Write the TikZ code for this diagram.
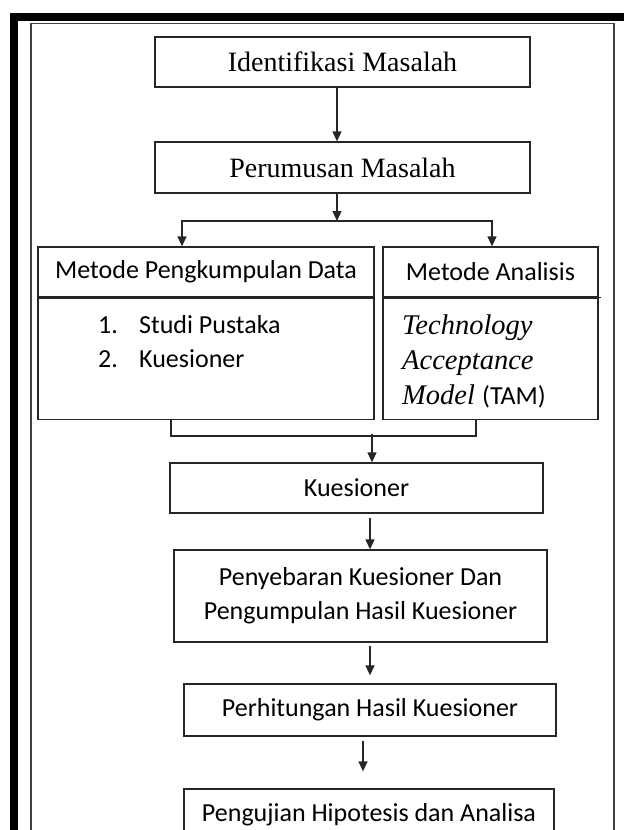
\documentclass[tikz,border=0pt]{standalone}
\usepackage{fontspec}
\setmainfont{Liberation Serif}
\newfontfamily\calibri{Carlito}
\usetikzlibrary{arrows.meta,positioning}

\tikzset{
  box/.style={draw=black!85, line width=1.3pt, inner sep=0pt},
  titlebox/.style={box, font=\fontsize{28}{30}\selectfont},
  stepbox/.style={box, font=\calibri\fontsize{26}{34}\selectfont, align=center},
  sans/.style={font=\calibri\fontsize{26}{34}\selectfont, inner sep=0pt},
  slant/.style={font=\itshape\fontsize{28.5}{34}\selectfont, inner sep=0pt},
  arr/.style={-{Triangle[width=9pt,length=10pt]}, line width=1.3pt, black!85},
  link/.style={line width=1.3pt, black!85}
}

\begin{document}
\begin{tikzpicture}[x=1pt,y=-1pt]

                    \clip (0,0) rectangle (624,830);
                    \useasboundingbox (0,0) rectangle (624,830);

                    % frame
                    \fill[black] (10,13) rectangle (624,20.5);
                    \fill[black] (10,13) rectangle (18,830);
                    \draw[line width=1.8pt, black!75] (31,840) -- (31,23.5) -- (614,23.5) -- (614,840);

                    \node[titlebox, minimum width=375, minimum height=50] (ident) at (342.5,62) {Identifikasi Masalah};
                    \node[titlebox, minimum width=375, minimum height=51] (rumus) at (342.5,167.5) {Perumusan Masalah};

                    \node[stepbox, minimum width=336, minimum height=50] (datahead) at (206,272) {Metode Pengkumpulan Data};
                    \node[box, minimum width=336, minimum height=121, below=0pt of datahead] (databody) {};
                    \node[stepbox, minimum width=215, minimum height=50] (analhead) at (490.5,272) {Metode Analisis};
                    \node[box, minimum width=215, minimum height=121, below=0pt of analhead] (analbody) {};
                    \draw[link] (analhead.south west) -- ++(219,0);

                    \node[sans, anchor=base west] (item1) at (98,333) {\makebox[41pt][l]{1.}Studi Pustaka};
                    \node[sans, anchor=base west] (item2) at (98,367) {\makebox[41pt][l]{2.}Kuesioner};
                    \node[slant, anchor=base west] (tech) at (402,334) {Technology};
                    \node[slant, anchor=base west] (accept) at (402,369) {Acceptance};
                    \node[slant, anchor=base west] (model) at (402,404) {Model {\upshape\calibri\fontsize{26}{34}\selectfont(TAM)}};

                    \node[stepbox, minimum width=373, minimum height=50] (kues) at (356.5,488) {Kuesioner};
                    \node[stepbox, minimum width=373, minimum height=92] (sebar) at (360.5,596) {Penyebaran Kuesioner Dan\\Pengumpulan Hasil Kuesioner};
                    \node[stepbox, minimum width=372, minimum height=52] (hitung) at (370,710) {Perhitungan Hasil Kuesioner};
                    \node[stepbox, minimum width=370, minimum height=52] (uji) at (369,815) {Pengujian Hipotesis dan Analisa};

                    % arrows
                    \draw[arr] ([xshift=-5.5pt]ident.south) -- ([xshift=-5.5pt]rumus.north);
                    \coordinate (split) at (337,221);
                    \draw[arr] ([xshift=-5.5pt]rumus.south) -- (split);
                    \draw[arr] (split) -| ([xshift=-24pt]datahead.north);
                    \draw[arr] (split) -| ([xshift=1.5pt]analhead.north);

                    \draw[link] ([xshift=-35pt]databody.south) -- ++(0,16) -| ([xshift=-14.5pt]analbody.south);
                    \coordinate (merge) at (372,434);
                    \draw[arr] (merge) -- (merge |- kues.north);

                    \draw[arr, shorten <=4pt] ([xshift=13.5pt]kues.south) -- ([xshift=9.5pt]sebar.north);
                    \draw[arr, shorten <=3pt, shorten >=8pt] ([xshift=9.5pt]sebar.south) -- (hitung.north);
                    \draw[arr, shorten <=4pt, shorten >=17pt] ([xshift=-7pt]hitung.south) -- ([xshift=-6pt]uji.north);
                \end{tikzpicture}
\end{document}
